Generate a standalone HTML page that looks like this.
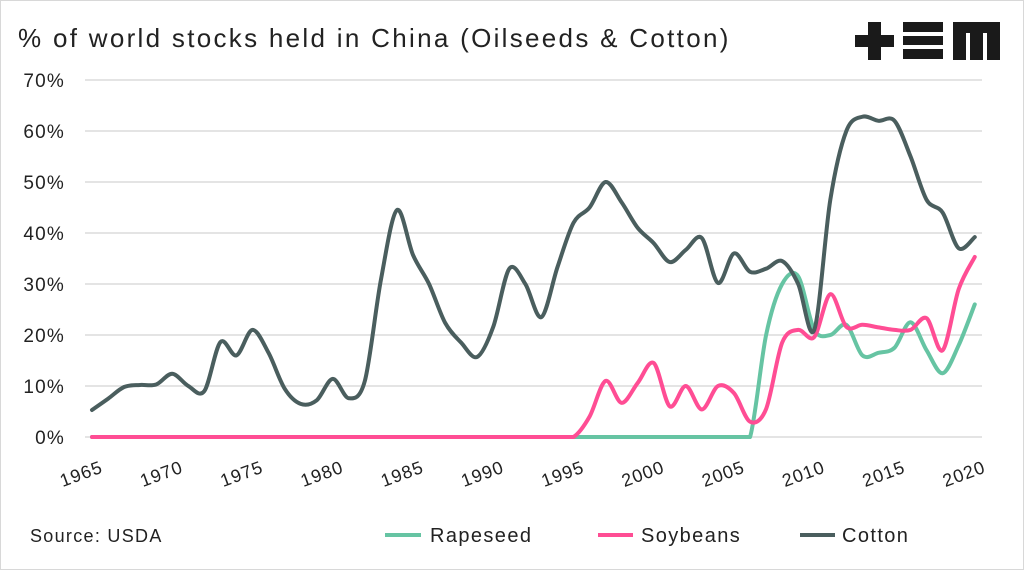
<!DOCTYPE html>
<html><head><meta charset="utf-8"><style>
body{margin:0;background:#fff;}
svg{display:block;font-family:"Liberation Sans",sans-serif;}
</style></head><body>
<svg width="1024" height="570" viewBox="0 0 1024 570">
<rect x="0.5" y="0.5" width="1023" height="569" fill="#fff" stroke="#d8d8d8"/>
<text x="18" y="47" font-size="26" letter-spacing="2.3" fill="#222">% of world stocks held in China (Oilseeds &amp; Cotton)</text>
<g fill="#1a1a1a">
<rect x="868" y="22" width="13" height="38"/><rect x="855" y="35" width="39" height="12"/>
<rect x="903" y="22" width="40" height="10"/><rect x="903" y="36" width="40" height="9"/><rect x="903" y="49" width="40" height="10"/>
<path d="M953 22H1000V60H987V33H983V60H970V33H966V60H953Z"/>
</g>
<g id="grid"></g><g id="ylab"></g><g id="xlab"></g><g id="series"></g>
<text x="30" y="542" font-size="18" letter-spacing="1.3" fill="#222">Source: USDA</text>
<g>
<g><line x1="385" y1="535" x2="421" y2="535" stroke="#66c4a3" stroke-width="4"/><text x="430" y="542" font-size="20" letter-spacing="1.4" fill="#222">Rapeseed</text></g>
<g><line x1="598" y1="535" x2="633" y2="535" stroke="#ff4d94" stroke-width="4"/><text x="641" y="542" font-size="20" letter-spacing="1.4" fill="#222">Soybeans</text></g>
<g><line x1="800" y1="535" x2="835" y2="535" stroke="#4a5e5e" stroke-width="4"/><text x="842" y="542" font-size="20" letter-spacing="1.4" fill="#222">Cotton</text></g>
</g>
</svg>
<script>
const years=[];for(let y=1965;y<=2020;y++)years.push(y);
const cotton=[5.3,7.5,9.8,10.2,10.3,12.4,10,9,18.6,16,21,16.5,9.5,6.5,7.2,11.4,7.6,11,30.8,44.5,35.7,30,22.4,18.5,15.7,21.6,33,30,23.5,33.3,42,45,50,46,41,38,34.3,36.7,39,30.2,36,32.4,33,34.5,30,21,46.5,60,62.8,62,62,55,46.5,44,37,39.2];
const soybeans=[0,0,0,0,0,0,0,0,0,0,0,0,0,0,0,0,0,0,0,0,0,0,0,0,0,0,0,0,0,0,0,4,11,6.7,10.6,14.5,6,10,5.4,10,8.6,3,5.5,18.5,21,19.6,28,21.6,22,21.5,21,21,23.3,17,29,35.3];
const rapeseed=[0,0,0,0,0,0,0,0,0,0,0,0,0,0,0,0,0,0,0,0,0,0,0,0,0,0,0,0,0,0,0,0,0,0,0,0,0,0,0,0,0,0,20,30,31.5,21,20,22,16,16.5,17.5,22.5,17,12.5,18,26];
const yTicks=[0,10,20,30,40,50,60,70];
const xTicks=[1965,1970,1975,1980,1985,1990,1995,2000,2005,2010,2015,2020];
const X=y=>92+(y-1965)*16.05;
const Y=v=>437-v*5.1;
const NS='http://www.w3.org/2000/svg';
function mk(t,a,p){const e=document.createElementNS(NS,t);for(const k in a)e.setAttribute(k,a[k]);p.appendChild(e);return e;}
const g=document.getElementById('grid'),yl=document.getElementById('ylab'),xl=document.getElementById('xlab'),sg=document.getElementById('series');
yTicks.forEach(v=>{
 const l=mk('line',{x1:85,x2:982,y1:Y(v),y2:Y(v),stroke:'#dcdcdc','stroke-width':1.5},g);
 
 
 const t=mk('text',{x:65,y:Y(v)+7,'font-size':19,'letter-spacing':1.2,fill:'#222','text-anchor':'end'},yl);t.textContent=v+'%';
 
 
});
xTicks.forEach(v=>{
 const t=mk('text',{x:0,y:0,'font-size':18,'letter-spacing':1,fill:'#222','text-anchor':'end',transform:`translate(${X(v)+12},${472}) rotate(-20)`},xl);t.textContent=v;
 
 
});
function path(vals){
 const p=vals.map((v,i)=>[X(years[i]),Y(v)]);
 const base=Y(0);
 let d='M'+p[0][0]+' '+p[0][1];
 for(let i=0;i<p.length-1;i++){
  const p0=p[i-1]||p[i],p1=p[i],p2=p[i+1],p3=p[i+2]||p2;
  const t=0.16;
  let c1y=p1[1]+(p2[1]-p0[1])*t, c2y=p2[1]-(p3[1]-p1[1])*t;
  c1y=Math.min(c1y,base);c2y=Math.min(c2y,base);
  d+=` C${p1[0]+(p2[0]-p0[0])*t} ${c1y} ${p2[0]-(p3[0]-p1[0])*t} ${c2y} ${p2[0]} ${p2[1]}`;
 }
 return d;
}
[['rapeseed',rapeseed,'#66c4a3'],['soybeans',soybeans,'#ff4d94'],['cotton',cotton,'#4a5e5e']].forEach(s=>{
 const e=mk('path',{d:path(s[1]),fill:'none',stroke:s[2],'stroke-width':4,'stroke-linejoin':'round','stroke-linecap':'round'},sg);
 
 
});
</script>
</body></html>
